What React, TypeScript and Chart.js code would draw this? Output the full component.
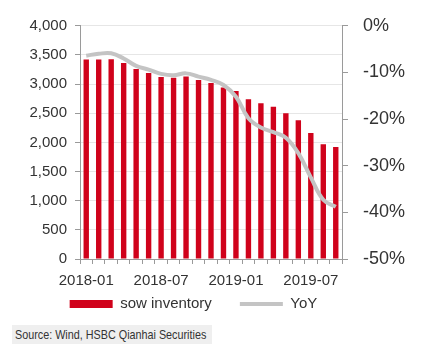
import React, { useEffect, useRef } from "react";
import { Chart, registerables } from "chart.js";

Chart.register(...registerables);

const categories = [
  "2018-01", "2018-02", "2018-03", "2018-04", "2018-05", "2018-06", "2018-07",
  "2018-08", "2018-09", "2018-10", "2018-11", "2018-12", "2019-01", "2019-02",
  "2019-03", "2019-04", "2019-05", "2019-06", "2019-07", "2019-08", "2019-09",
];
const sowInventory = [
  3420, 3420, 3425, 3360, 3260, 3190, 3120, 3110, 3130, 3070, 3020, 2940,
  2880, 2740, 2670, 2610, 2500, 2380, 2160, 1970, 1920,
];
const yoy = [
  -6.4, -6.0, -5.9, -7.0, -8.6, -9.4, -10.3, -10.6, -10.2, -10.9, -11.6, -12.7,
  -15.2, -19.8, -21.8, -22.8, -24.0, -27.3, -32.5, -37.3, -38.8,
];
const xTickLabels = ["2018-01", "2018-07", "2019-01", "2019-07"];
const seriesNames = ["sow inventory", "YoY"];
const sourceText = "Source: Wind, HSBC Qianhai Securities";

const SANS = "'Liberation Sans', Arial, sans-serif";
const RED = "#d0021b";
const GREY_LINE = "#c4c4c4";
const AXIS = "#9a9a9a";
const TEXT = "#333333";

// nudges the built-in legend to where the reference places it
const legendOffset = {
  id: "legendOffset",
  afterLayout(chart: any) {
    const lg = chart.legend;
    if (!lg) return;
    lg.left -= 18;
    lg.right -= 18;
    lg.top -= 21.5;
    lg.bottom -= 21.5;
  },
};

export default function App() {
  const ref = useRef<HTMLCanvasElement | null>(null);

  useEffect(() => {
    if (!ref.current) return;
    const chart = new Chart(ref.current, {
      type: "bar",
      data: {
        labels: categories,
        datasets: [
          {
            type: "bar",
            label: seriesNames[0],
            data: sowInventory,
            backgroundColor: RED,
            borderWidth: 0,
            barPercentage: 0.9,
            categoryPercentage: 0.48,
            yAxisID: "y",
            order: 1,
          },
          {
            type: "line",
            label: seriesNames[1],
            data: yoy,
            borderColor: GREY_LINE,
            backgroundColor: GREY_LINE,
            borderWidth: 4,
            pointRadius: 0,
            tension: 0.4,
            yAxisID: "y1",
            order: 0,
          },
        ],
      },
      plugins: [legendOffset],
      options: {
        responsive: false,
        animation: false,
        devicePixelRatio: 1,
        layout: { padding: { top: 19, right: 0, left: 0, bottom: 0 } },
        plugins: {
          tooltip: { enabled: false },
          legend: {
            position: "bottom",
            labels: {
              usePointStyle: true,
              pointStyleWidth: 43,
              boxHeight: 8,
              padding: 28,
              color: TEXT,
              font: { family: SANS, size: 15 },
              sort: (a: any, b: any) => a.datasetIndex - b.datasetIndex,
              generateLabels: (c: any) => {
                const items = Chart.defaults.plugins.legend.labels.generateLabels(c);
                return items.map((it: any) => {
                  if (it.datasetIndex === 0) {
                    return { ...it, pointStyle: "rect", lineWidth: 0, fillStyle: RED, strokeStyle: RED };
                  }
                  return { ...it, pointStyle: "line", lineWidth: 4, strokeStyle: GREY_LINE, fillStyle: GREY_LINE };
                });
              },
            },
          },
        },
        scales: {
          x: {
            offset: true,
            grid: {
              display: true,
              drawOnChartArea: false,
              drawTicks: true,
              tickLength: 5,
              tickColor: AXIS,
              offset: true,
            },
            border: { display: true, color: AXIS, width: 1 },
            ticks: {
              autoSkip: false,
              maxRotation: 0,
              padding: 8,
              color: TEXT,
              font: { family: SANS, size: 15 },
              callback: function (this: any, _v: any, i: number) {
                const lab = categories[i];
                return xTickLabels.includes(lab) ? lab : "";
              },
            },
            afterFit: (s: any) => {
              s.height = 31;
            },
          },
          y: {
            position: "left",
            min: 0,
            max: 4000,
            grid: {
              color: "#e6e6e6",
              tickColor: AXIS,
              tickLength: 5,
              drawTicks: true,
            },
            border: { display: true, color: AXIS, width: 1 },
            ticks: {
              stepSize: 500,
              padding: 8,
              color: TEXT,
              font: { family: SANS, size: 15 },
              callback: (v: any) => Number(v).toLocaleString("en-US"),
            },
            afterFit: (s: any) => {
              s.width = 80;
            },
          },
          y1: {
            position: "right",
            min: -50,
            max: 0,
            grid: {
              drawOnChartArea: false,
              tickColor: AXIS,
              tickLength: 6,
              drawTicks: true,
            },
            border: { display: true, color: AXIS, width: 1 },
            ticks: {
              stepSize: 10,
              padding: 15,
              color: TEXT,
              font: { family: SANS, size: 18 },
              callback: (v: any) => `${v}%`,
            },
            afterFit: (s: any) => {
              s.width = 81;
            },
          },
        },
      },
    });
    return () => chart.destroy();
  }, []);

  return (
    <div
      style={{
        position: "fixed",
        top: 0,
        left: 0,
        width: 423,
        height: 350,
        background: "#ffffff",
        overflow: "hidden",
      }}
    >
      <canvas ref={ref} width={423} height={343} style={{ display: "block", width: 423, height: 343 }} />
      <div
        style={{
          position: "absolute",
          left: 12,
          top: 325,
          width: 200,
          height: 19,
          background: "#efefef",
          overflow: "hidden",
        }}
      >
        <span
          style={{
            display: "inline-block",
            color: TEXT,
            fontFamily: SANS,
            fontSize: 13,
            lineHeight: "19px",
            marginLeft: 3,
            whiteSpace: "nowrap",
            transform: "scaleX(0.83)",
            transformOrigin: "left center",
          }}
        >
          {sourceText}
        </span>
      </div>
    </div>
  );
}
